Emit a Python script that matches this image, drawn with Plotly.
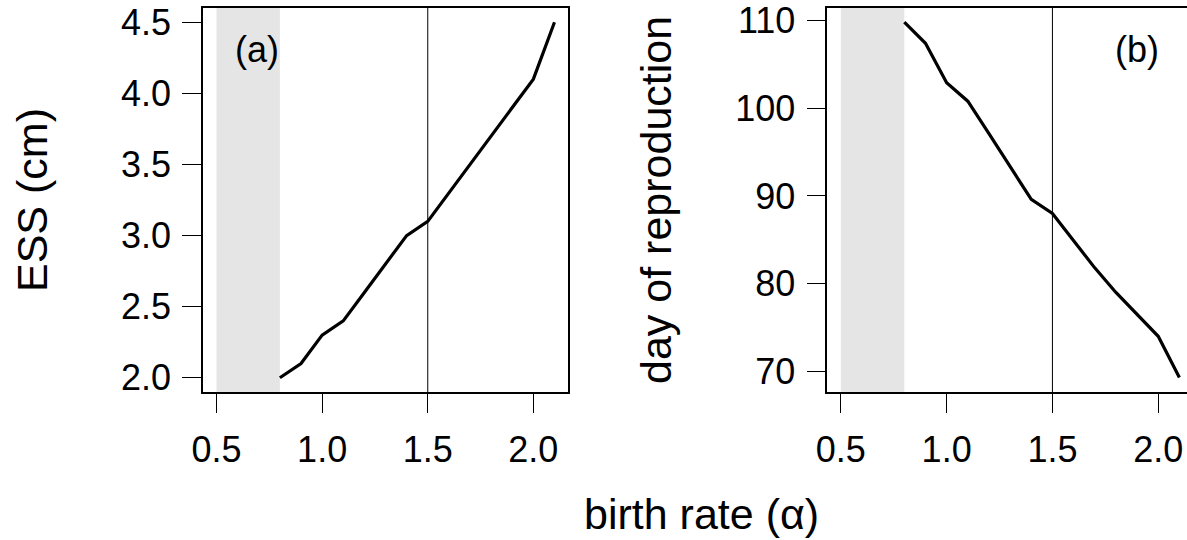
import plotly.graph_objects as go

# Data
birth_rate = [0.8, 0.9, 1.0, 1.1, 1.2, 1.3, 1.4, 1.5, 1.6, 1.7, 1.8, 1.9, 2.0, 2.1]
ess_cm = [2.0, 2.1, 2.3, 2.4, 2.6, 2.8, 3.0, 3.1, 3.3, 3.5, 3.7, 3.9, 4.1, 4.5]
day_repro = [109.8, 107.4, 102.9, 100.8, 97.1, 93.4, 89.6, 88.0, 84.9, 81.8, 79.0, 76.5, 74.0, 69.3]

x_ticks = [0.5, 1.0, 1.5, 2.0]
x_tick_labels = ["0.5", "1.0", "1.5", "2.0"]
y1_ticks = [2.0, 2.5, 3.0, 3.5, 4.0, 4.5]
y1_tick_labels = ["2.0", "2.5", "3.0", "3.5", "4.0", "4.5"]
y2_ticks = [70, 80, 90, 100, 110]
y2_tick_labels = ["70", "80", "90", "100", "110"]

shade_range = [0.5, 0.8]
ref_line = 1.5

FONT = "Liberation Sans, Arial, Helvetica, sans-serif"
FS_TICK = 36
FS_LAB = 43
W, H = 1187, 540

fig = go.Figure()
fig.add_trace(go.Scatter(x=birth_rate, y=ess_cm, mode="lines",
                         line=dict(color="black", width=3.2), xaxis="x", yaxis="y",
                         showlegend=False))
fig.add_trace(go.Scatter(x=birth_rate, y=day_repro, mode="lines",
                         line=dict(color="black", width=3.2), xaxis="x2", yaxis="y2",
                         showlegend=False))

ydom = [1 - 392 / H, 1 - 8 / H]
axis_common = dict(showgrid=False, zeroline=False, ticks="outside", ticklen=19,
                   tickwidth=1.3, tickcolor="black", linecolor="black", linewidth=1.5,
                   showline=True, automargin=False,
                   tickfont=dict(family=FONT, size=FS_TICK, color="black"))

fig.update_layout(
    width=W, height=H, margin=dict(l=0, r=0, t=0, b=0, autoexpand=False),
    plot_bgcolor="white", paper_bgcolor="white",
    font=dict(family=FONT, size=FS_TICK, color="black"),
    xaxis=dict(domain=[203 / W, 568 / W], range=[0.436, 2.164], tickvals=x_ticks,
               ticktext=x_tick_labels, mirror=True, anchor="y", ticklabelstandoff=6,
               **axis_common),
    yaxis=dict(domain=ydom, range=[1.9, 4.6], tickvals=y1_ticks, ticktext=y1_tick_labels,
               mirror=True, anchor="x", ticklabelstandoff=4, **axis_common),
    xaxis2=dict(domain=[827.3 / W, 1.0], range=[0.436, 2.136], tickvals=x_ticks,
                ticktext=x_tick_labels, mirror=True, anchor="y2", ticklabelstandoff=6,
                **axis_common),
    yaxis2=dict(domain=ydom, range=[67.65, 111.42], tickvals=y2_ticks,
                ticktext=y2_tick_labels, mirror=False, anchor="x2", ticklabelstandoff=4,
                **axis_common),
)

for xr, yr in (("x", "y"), ("x2", "y2")):
    fig.add_shape(type="rect", xref=xr, yref=f"{yr} domain", x0=shade_range[0],
                  x1=shade_range[1], y0=0, y1=1, fillcolor="#e5e5e5", line=dict(width=0),
                  layer="below")
    fig.add_shape(type="line", xref=xr, yref=f"{yr} domain", x0=ref_line, x1=ref_line,
                  y0=0, y1=1, line=dict(color="black", width=1), layer="above")

fig.add_annotation(text="(a)", xref="paper", yref="paper", x=256.7 / W, y=1 - 49 / H,
                   showarrow=False, font=dict(family=FONT, size=FS_TICK), xanchor="center",
                   yanchor="middle")
fig.add_annotation(text="(b)", xref="paper", yref="paper", x=1136.7 / W, y=1 - 49 / H,
                   showarrow=False, font=dict(family=FONT, size=FS_TICK), xanchor="center",
                   yanchor="middle")
fig.add_annotation(text="ESS (cm)", xref="paper", yref="paper", x=32 / W, y=1 - 200 / H,
                   showarrow=False, textangle=-90, font=dict(family=FONT, size=FS_LAB),
                   xanchor="center", yanchor="middle")
fig.add_annotation(text="day of reproduction", xref="paper", yref="paper", x=656 / W,
                   y=1 - 200 / H, showarrow=False, textangle=-90,
                   font=dict(family=FONT, size=FS_LAB), xanchor="center", yanchor="middle")
fig.add_annotation(text="birth rate (α)", xref="paper", yref="paper", x=701.5 / W,
                   y=1 - 514 / H, showarrow=False, font=dict(family=FONT, size=FS_LAB),
                   xanchor="center", yanchor="middle")

fig.write_html("out.html")
